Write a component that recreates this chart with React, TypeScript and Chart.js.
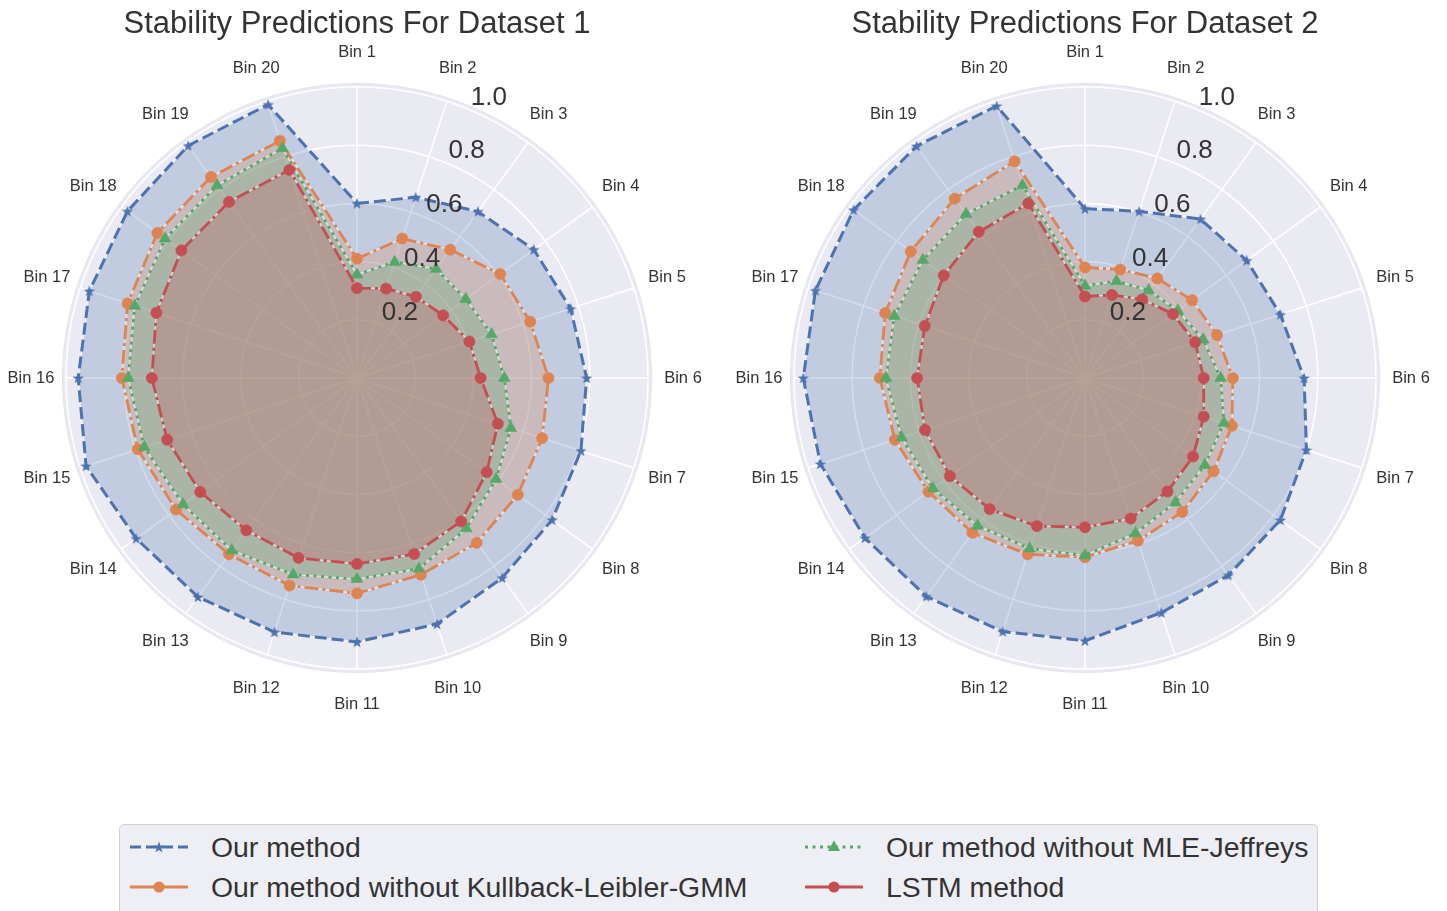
import React, { useEffect, useRef } from 'react';
import { Chart, registerables } from 'chart.js';

Chart.register(...registerables);

const FONT = '"Liberation Sans", Arial, Helvetica, sans-serif';

// ---------- data ----------
const binLabels = [
  'Bin 1', 'Bin 2', 'Bin 3', 'Bin 4', 'Bin 5', 'Bin 6', 'Bin 7', 'Bin 8', 'Bin 9', 'Bin 10',
  'Bin 11', 'Bin 12', 'Bin 13', 'Bin 14', 'Bin 15', 'Bin 16', 'Bin 17', 'Bin 18', 'Bin 19', 'Bin 20',
];

const radialTickValues = [0.2, 0.4, 0.6, 0.8, 1.0];
const radialTickLabels = ['0.2', '0.4', '0.6', '0.8', '1.0'];

const seriesNames = [
  'Our method',
  'Our method without Kullback-Leibler-GMM',
  'Our method without MLE-Jeffreys',
  'LSTM method',
];

const panelTitles = ['Stability Predictions For Dataset 1', 'Stability Predictions For Dataset 2'];

// Dataset 1
const ourMethod1 = [0.600, 0.653, 0.707, 0.751, 0.772, 0.789, 0.809, 0.829, 0.849, 0.889, 0.907, 0.918, 0.930, 0.938, 0.979, 0.958, 0.967, 0.975, 0.987, 0.988];
const noKL1 = [0.410, 0.504, 0.545, 0.608, 0.626, 0.658, 0.669, 0.683, 0.700, 0.711, 0.740, 0.750, 0.749, 0.769, 0.792, 0.808, 0.829, 0.848, 0.854, 0.857];
const noMLE1 = [0.355, 0.419, 0.463, 0.462, 0.486, 0.506, 0.556, 0.591, 0.639, 0.689, 0.691, 0.710, 0.732, 0.739, 0.769, 0.786, 0.803, 0.815, 0.818, 0.830];
const lstm1 = [0.309, 0.323, 0.345, 0.366, 0.406, 0.425, 0.509, 0.551, 0.609, 0.636, 0.639, 0.650, 0.647, 0.666, 0.686, 0.705, 0.725, 0.746, 0.748, 0.752];

// Dataset 2
const ourMethod2 = [0.582, 0.602, 0.675, 0.687, 0.706, 0.753, 0.800, 0.830, 0.838, 0.848, 0.903, 0.916, 0.928, 0.935, 0.956, 0.968, 0.974, 0.983, 0.985, 0.983];
const noKL2 = [0.380, 0.392, 0.423, 0.455, 0.477, 0.508, 0.531, 0.546, 0.569, 0.588, 0.616, 0.637, 0.658, 0.665, 0.687, 0.705, 0.722, 0.740, 0.762, 0.783];
const noMLE2 = [0.317, 0.350, 0.372, 0.394, 0.427, 0.466, 0.502, 0.509, 0.529, 0.561, 0.610, 0.616, 0.628, 0.646, 0.663, 0.684, 0.689, 0.689, 0.696, 0.696];
const lstm2 = [0.280, 0.300, 0.334, 0.374, 0.398, 0.408, 0.429, 0.459, 0.482, 0.508, 0.513, 0.535, 0.557, 0.574, 0.578, 0.577, 0.579, 0.600, 0.621, 0.631];

// ---------- styles ----------
const colors = ['#4C72B0', '#DD8452', '#55A868', '#C44E52'];
const fillColors = [
  'rgba(76,114,176,0.25)',
  'rgba(221,132,82,0.25)',
  'rgba(85,168,104,0.25)',
  'rgba(196,78,82,0.25)',
];
const dashes = [[12, 5], [14, 4, 3, 4], [3, 4.5], [14, 4, 3, 4]];
const lineWidths = [3, 2.8, 2.8, 2.8];

function makeStar(color: string, R: number, r: number): HTMLCanvasElement {
  const size = Math.ceil(R * 2 + 2);
  const c = document.createElement('canvas');
  c.width = size;
  c.height = size;
  const g = c.getContext('2d')!;
  const cx = size / 2;
  const cy = size / 2 + 0.5;
  g.beginPath();
  for (let i = 0; i < 10; i++) {
    const a = -Math.PI / 2 + (i * Math.PI) / 5;
    const rad = i % 2 === 0 ? R : r;
    const x = cx + Math.cos(a) * rad;
    const y = cy + Math.sin(a) * rad;
    if (i === 0) g.moveTo(x, y);
    else g.lineTo(x, y);
  }
  g.closePath();
  g.fillStyle = color;
  g.fill();
  return c;
}

function starPoints(cx: number, cy: number, R: number, r: number): string {
  const pts: string[] = [];
  for (let i = 0; i < 10; i++) {
    const a = -Math.PI / 2 + (i * Math.PI) / 5;
    const rad = i % 2 === 0 ? R : r;
    pts.push(`${(cx + Math.cos(a) * rad).toFixed(2)},${(cy + Math.sin(a) * rad).toFixed(2)}`);
  }
  return pts.join(' ');
}

function buildDatasets(series: number[][], star: HTMLCanvasElement) {
  const ds: any[] = [];
  const pointStyles: any[] = [star, 'circle', 'triangle', 'circle'];
  const pointRadii = [6, 5.6, 6.8, 5.6];
  for (let k = 3; k >= 0; k--) {
    // styled line with markers (drawn above its own fill)
    ds.push({
      label: seriesNames[k],
      data: series[k],
      fill: false,
      borderColor: colors[k],
      backgroundColor: colors[k],
      borderWidth: lineWidths[k],
      borderDash: dashes[k],
      borderCapStyle: 'butt',
      pointStyle: pointStyles[k],
      pointRadius: pointRadii[k],
      pointHoverRadius: pointRadii[k],
      pointBackgroundColor: colors[k],
      pointBorderColor: colors[k],
      pointBorderWidth: 0.6,
    });
    // translucent fill with whitish edge
    ds.push({
      label: seriesNames[k] + ' fill',
      data: series[k],
      fill: 'origin',
      backgroundColor: fillColors[k],
      borderColor: 'rgba(255,255,255,0.55)',
      borderWidth: 1.6,
      pointRadius: 0,
      pointHoverRadius: 0,
      pointHitRadius: 0,
    });
  }
  return ds;
}

const decorPlugin = {
  id: 'polarDecor',
  beforeDraw(chart: any) {
    const s: any = chart.scales.r;
    const ctx = chart.ctx;
    ctx.save();
    ctx.beginPath();
    ctx.arc(s.xCenter, s.yCenter, s.drawingArea + 3.5, 0, Math.PI * 2);
    ctx.fillStyle = '#EAEAF2';
    ctx.fill();
    ctx.lineWidth = 1;
    ctx.strokeStyle = '#E2E2EC';
    ctx.stroke();
    ctx.restore();
  },
  afterDatasetsDraw(chart: any) {
    const s: any = chart.scales.r;
    const ctx = chart.ctx;
    ctx.save();
    ctx.fillStyle = '#333333';
    ctx.font = `16.5px ${FONT}`;
    ctx.textAlign = 'center';
    ctx.textBaseline = 'middle';
    binLabels.forEach((lab, i) => {
      const p = s.getPointPosition(i, s.drawingArea + 35);
      ctx.fillText(lab, p.x, p.y);
    });
    ctx.font = `26px ${FONT}`;
    ctx.textAlign = 'left';
    ctx.textBaseline = 'alphabetic';
    const a = (22.5 * Math.PI) / 180;
    radialTickValues.forEach((v, i) => {
      const d = s.getDistanceFromCenterForValue(v);
      ctx.fillText(radialTickLabels[i], s.xCenter + d * Math.sin(a) + 2.5, s.yCenter - d * Math.cos(a) - 4.5);
    });
    ctx.restore();
  },
};

function RadarPanel({ title, series, left }: { title: string; series: number[][]; left: number }) {
  const ref = useRef<HTMLCanvasElement | null>(null);
  useEffect(() => {
    if (!ref.current) return;
    const star = makeStar(colors[0], 6, 2.4);
    const chart = new Chart(ref.current, {
      type: 'radar',
      data: { labels: binLabels, datasets: buildDatasets(series, star) },
      options: {
        responsive: false,
        animation: false,
        devicePixelRatio: 1,
        layout: { padding: { left: 59, right: 59, top: 0, bottom: 61 } },
        plugins: {
          legend: { display: false },
          tooltip: { enabled: false },
          title: {
            display: true,
            text: title,
            color: '#333333',
            font: { family: FONT, size: 31, weight: 'normal', lineHeight: 1.2 },
            padding: { top: 6, bottom: 43.8 },
          },
        },
        elements: { line: { tension: 0 } },
        scales: {
          r: {
            min: 0,
            max: 1,
            beginAtZero: true,
            ticks: { display: false, stepSize: 0.2 },
            grid: { color: '#FFFFFF', lineWidth: 1.5, circular: true },
            angleLines: { display: true, color: '#FFFFFF', lineWidth: 1.5 },
            pointLabels: { display: false },
          },
        },
      } as any,
      plugins: [decorPlugin as any],
    });
    return () => chart.destroy();
  }, [title, series]);
  return (
    <canvas
      ref={ref}
      width={700}
      height={730}
      style={{ position: 'absolute', left, top: 0, width: 700, height: 730 }}
    />
  );
}

function LegendHandle({ k }: { k: number }) {
  const c = colors[k];
  const dash = k === 0 ? '11 5' : k === 2 ? '3 4.5' : undefined;
  return (
    <svg width={60} height={22} style={{ display: 'block' }}>
      <line x1={0} y1={11} x2={58} y2={11} stroke={c} strokeWidth={2.8} strokeDasharray={dash} />
      {k === 0 && <polygon points={starPoints(29, 11.5, 6, 2.4)} fill={c} />}
      {(k === 1 || k === 3) && <circle cx={29} cy={11} r={5.6} fill={c} />}
      {k === 2 && <polygon points="29,4.5 35,15 23,15" fill={c} />}
    </svg>
  );
}

export default function App() {
  const series1 = [ourMethod1, noKL1, noMLE1, lstm1];
  const series2 = [ourMethod2, noKL2, noMLE2, lstm2];
  const legendPos = [
    { k: 0, hx: 130, tx: 211, cy: 847 },
    { k: 1, hx: 130, tx: 211, cy: 887 },
    { k: 2, hx: 805, tx: 886, cy: 847 },
    { k: 3, hx: 805, tx: 886, cy: 887 },
  ];
  return (
    <div
      style={{
        position: 'absolute',
        left: 0,
        top: 0,
        width: 1447,
        height: 911,
        overflow: 'hidden',
        background: '#FFFFFF',
        fontFamily: FONT,
      }}
    >
      <RadarPanel title={panelTitles[0]} series={series1} left={7} />
      <RadarPanel title={panelTitles[1]} series={series2} left={735} />
      <div
        style={{
          position: 'absolute',
          left: 119,
          top: 824,
          width: 1199,
          height: 120,
          boxSizing: 'border-box',
          border: '1.5px solid #D2D2D2',
          borderRadius: 5,
          background: '#EEEEF5',
        }}
      />
      {legendPos.map((p) => (
        <React.Fragment key={p.k}>
          <div style={{ position: 'absolute', left: p.hx, top: p.cy - 11 }}>
            <LegendHandle k={p.k} />
          </div>
          <div
            style={{
              position: 'absolute',
              left: p.tx,
              top: p.cy - 16,
              fontSize: 28.4,
              lineHeight: '32px',
              color: '#333333',
              whiteSpace: 'nowrap',
            }}
          >
            {seriesNames[p.k]}
          </div>
        </React.Fragment>
      ))}
    </div>
  );
}
